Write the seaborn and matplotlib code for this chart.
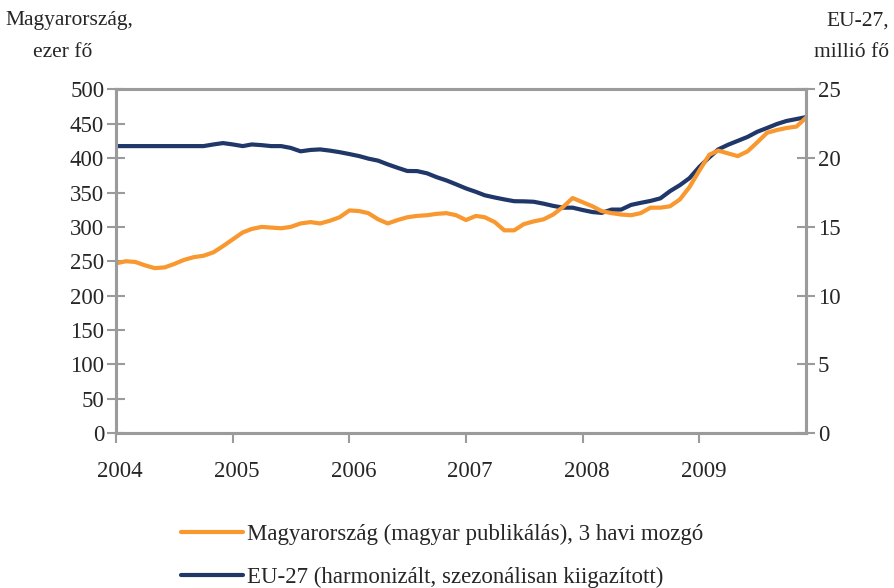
import pandas as pd
import numpy as np
import matplotlib
matplotlib.use('Agg')
import matplotlib.pyplot as plt
import matplotlib.dates as mdates
import matplotlib.transforms as mtrans
import seaborn as sns

# monthly data, Jan 2004 - Dec 2009
months = pd.date_range('2004-01-01', periods=72, freq='MS')

hu_thousand = [247, 250, 249, 244, 240, 241, 246, 252, 256, 258, 263, 272,
               282, 292, 297, 300, 299, 298, 300, 305, 307, 305, 309, 314,
               324, 323, 320, 311, 305, 310, 314, 316, 317, 319, 320, 317,
               310, 316, 314, 307, 295, 295, 304, 308, 311, 318, 329, 342,
               336, 330, 323, 320, 318, 317, 320, 328, 328, 330, 340, 358,
               382, 405, 411, 407, 403, 410, 423, 437, 441, 444, 446, 459]

eu_million = [20.88, 20.88, 20.88, 20.88, 20.88, 20.88, 20.88, 20.88, 20.88, 20.88, 21.0, 21.1,
              21.0, 20.88, 21.0, 20.95, 20.88, 20.88, 20.75, 20.5, 20.6, 20.64, 20.55, 20.44,
              20.3, 20.15, 19.97, 19.82, 19.55, 19.3, 19.07, 19.06, 18.9, 18.62, 18.38, 18.1,
              17.8, 17.55, 17.3, 17.14, 17.0, 16.87, 16.86, 16.83, 16.69, 16.53, 16.4, 16.4,
              16.23, 16.08, 16.02, 16.26, 16.26, 16.6, 16.75, 16.89, 17.08, 17.6, 18.04, 18.55,
              19.37, 20.06, 20.64, 20.98, 21.26, 21.55, 21.92, 22.2, 22.49, 22.71, 22.85, 22.99]

hu_label = 'Magyarország (magyar publikálás), 3 havi mozgó'
eu_label = 'EU-27 (harmonizált, szezonálisan kiigazított)'

orange = '#F8982E'
navy = '#1F3769'
grey = '#9B9B9B'

sns.set_style('white')
plt.rcParams['font.family'] = ['Liberation Serif', 'DejaVu Serif']
fs = 16.5

df = pd.DataFrame({'date': months, 'hu': hu_thousand, 'eu': eu_million})

fig = plt.figure(figsize=(8.94, 5.88), dpi=100)
ax = fig.add_axes([0.1298, 0.2636, 0.7718, 0.5842])
ax2 = ax.twinx()

sns.lineplot(data=df, x='date', y='hu', ax=ax, color=orange, lw=3, label=hu_label, legend=False)
sns.lineplot(data=df, x='date', y='eu', ax=ax2, color=navy, lw=3, label=eu_label, legend=False)

ax.set_xlim(months[0], months[-1])
ax.set_ylim(0, 500)
ax2.set_ylim(0, 25)
ax.set_yticks(np.arange(0, 501, 50))
ax2.set_yticks(np.arange(0, 26, 5))
ax.xaxis.set_major_locator(mdates.YearLocator())
ax.xaxis.set_major_formatter(mdates.DateFormatter('%Y'))

for a in (ax, ax2):
    a.set_xlabel('')
    a.set_ylabel('')
    for s in a.spines.values():
        s.set_color(grey)
        s.set_linewidth(2.2)
        s.set_visible(True)

ax.tick_params(axis='y', direction='inout', length=13, width=1.5, color=grey,
               labelsize=fs, pad=2, left=True)
ax2.tick_params(axis='y', direction='inout', length=13, width=1.5, color=grey,
                labelsize=fs, pad=2, right=True)
ax.tick_params(axis='x', direction='out', length=7, width=1.5, color=grey,
               labelsize=fs, pad=13, bottom=True)
shift = mtrans.ScaledTranslation(4 / 100, 0, fig.dpi_scale_trans)
for lab in ax.get_xticklabels():
    lab.set_transform(lab.get_transform() + shift)
ax.set_zorder(ax2.get_zorder() + 1)
ax.patch.set_visible(False)

fig.text(0.006, 0.965, 'Magyarország,', fontsize=15.5, ha='left', va='center')
fig.text(0.07, 0.91, 'ezer fő', fontsize=15.5, ha='center', va='center')
fig.text(0.995, 0.965, 'EU-27,', fontsize=15.5, ha='right', va='center')
fig.text(0.995, 0.91, 'millió fő', fontsize=15.5, ha='right', va='center')

handles = ax.get_lines()[:1] + ax2.get_lines()[:1]
fig.legend(handles, [hu_label, eu_label], loc='upper left',
           bbox_to_anchor=(0.192, 0.125), frameon=False, fontsize=fs,
           handlelength=2.7, handletextpad=0.2, labelspacing=0.95,
           borderaxespad=0)

fig.savefig('out.png', dpi=100)
